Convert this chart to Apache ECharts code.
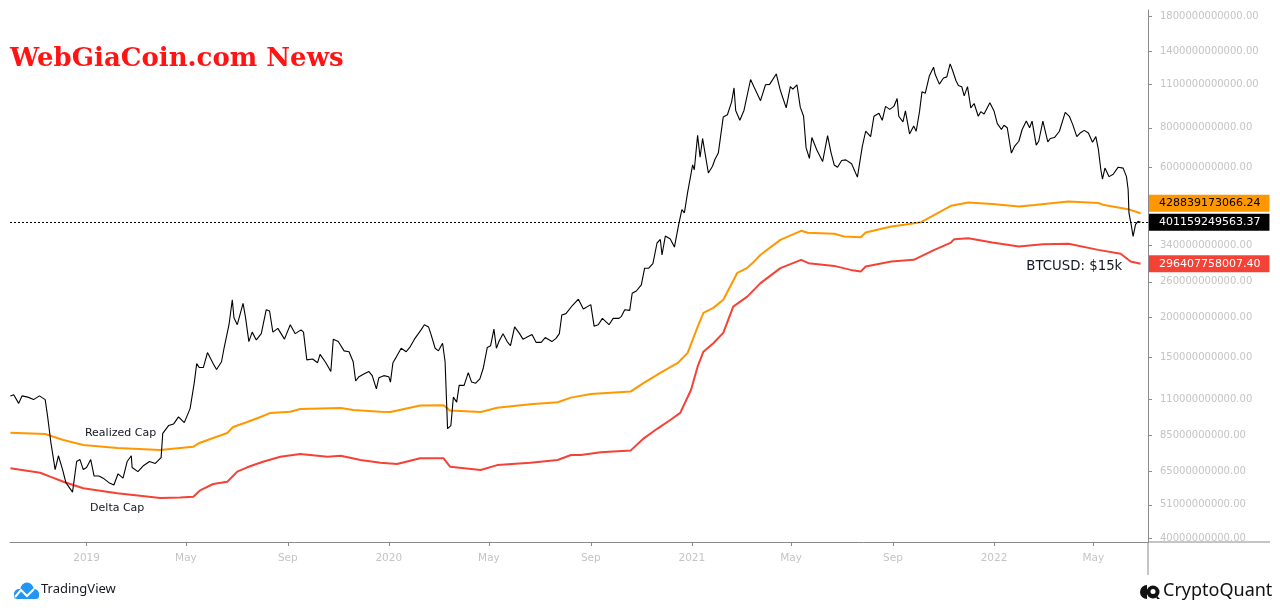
<!DOCTYPE html>
<html><head><meta charset="utf-8">
<script src="https://cdn.jsdelivr.net/npm/echarts@6/dist/echarts.min.js"></script>
<style>html,body{margin:0;padding:0;background:#fff}#c{width:1280px;height:611px}</style>
</head><body><div id="c"></div>
<script>
// values in billions of USD
const UNIT = 1e9;
const btcMarketCap = [
['2018-10-01',113],['2018-10-05',114],['2018-10-11',107],['2018-10-15',113],['2018-10-22',112],['2018-10-29',110],
['2018-11-05',113],['2018-11-12',110],['2018-11-15',97],['2018-11-19',80],['2018-11-20',77],['2018-11-24',66],['2018-11-28',73],
['2018-12-03',66],['2018-12-07',60],['2018-12-15',56],['2018-12-20',70],['2018-12-24',71],['2018-12-28',66],
['2019-01-01',67],['2019-01-06',71],['2019-01-10',63],['2019-01-16',63],['2019-01-21',62],['2019-01-28',60],
['2019-02-03',59],['2019-02-08',64],['2019-02-14',62],['2019-02-19',70],['2019-02-24',73],['2019-02-25',67],
['2019-03-04',65],['2019-03-11',68],['2019-03-18',70],['2019-03-25',69],['2019-04-01',72],['2019-04-03',86],
['2019-04-10',91],['2019-04-16',92],['2019-04-22',97],['2019-04-29',93],['2019-05-06',103],['2019-05-11',124],
['2019-05-14',143],['2019-05-17',139],['2019-05-22',139],['2019-05-27',155],['2019-06-03',143],['2019-06-07',137],
['2019-06-13',145],['2019-06-16',160],['2019-06-22',190],['2019-06-26',228],['2019-06-28',200],['2019-07-02',190],
['2019-07-09',222],['2019-07-12',200],['2019-07-16',168],['2019-07-20',180],['2019-07-25',170],['2019-07-31',178],
['2019-08-06',212],['2019-08-10',210],['2019-08-14',180],['2019-08-20',185],['2019-08-28',171],['2019-09-04',190],
['2019-09-10',178],['2019-09-17',183],['2019-09-20',180],['2019-09-24',147],['2019-10-01',148],['2019-10-07',144],
['2019-10-10',153],['2019-10-17',144],['2019-10-23',135],['2019-10-26',171],['2019-11-01',168],['2019-11-08',157],
['2019-11-14',156],['2019-11-19',145],['2019-11-22',126],['2019-11-26',130],['2019-12-03',133],['2019-12-08',135],
['2019-12-12',131],['2019-12-17',119],['2019-12-20',129],['2019-12-26',131],['2020-01-01',130],['2020-01-03',125],
['2020-01-06',144],['2020-01-10',150],['2020-01-16',160],['2020-01-22',156],['2020-01-27',162],['2020-02-01',171],
['2020-02-09',183],['2020-02-13',190],['2020-02-18',187],['2020-02-21',177],['2020-02-26',160],['2020-03-01',157],
['2020-03-06',166],['2020-03-09',145],['2020-03-12',89],['2020-03-16',91],['2020-03-19',112],['2020-03-23',108],
['2020-03-26',122],['2020-04-01',122],['2020-04-06',134],['2020-04-10',125],['2020-04-15',124],['2020-04-20',128],
['2020-04-24',138],['2020-04-29',161],['2020-05-03',163],['2020-05-07',184],['2020-05-10',160],['2020-05-13',168],
['2020-05-18',178],['2020-05-23',168],['2020-05-27',163],['2020-06-01',187],['2020-06-07',178],['2020-06-11',171],
['2020-06-15',173],['2020-06-22',177],['2020-06-27',167],['2020-07-03',167],['2020-07-08',173],['2020-07-16',168],
['2020-07-21',172],['2020-07-25',178],['2020-07-28',204],['2020-08-02',206],['2020-08-10',219],['2020-08-17',229],
['2020-08-23',213],['2020-09-01',220],['2020-09-05',188],['2020-09-10',190],['2020-09-15',199],['2020-09-23',190],
['2020-09-28',199],['2020-10-05',199],['2020-10-08',202],['2020-10-12',212],['2020-10-18',211],['2020-10-21',239],
['2020-10-26',243],['2020-11-01',254],['2020-11-05',287],['2020-11-10',287],['2020-11-15',297],['2020-11-20',345],
['2020-11-24',354],['2020-11-26',316],['2020-11-30',363],['2020-12-06',355],['2020-12-11',335],['2020-12-16',393],
['2020-12-20',440],['2020-12-23',430],['2020-12-27',500],['2021-01-02',610],['2021-01-04',589],['2021-01-08',757],
['2021-01-11',645],['2021-01-14',740],['2021-01-21',575],['2021-01-26',604],['2021-01-29',636],['2021-02-02',665],
['2021-02-08',866],['2021-02-13',880],['2021-02-18',965],['2021-02-21',1070],['2021-02-23',908],['2021-02-28',845],
['2021-03-05',908],['2021-03-13',1138],['2021-03-17',1080],['2021-03-25',975],['2021-03-31',1095],['2021-04-05',1098],
['2021-04-13',1185],['2021-04-18',1050],['2021-04-25',925],['2021-04-30',1080],['2021-05-03',1060],['2021-05-08',1095],
['2021-05-12',930],['2021-05-16',870],['2021-05-19',692],['2021-05-21',700],['2021-05-23',640],['2021-05-26',745],
['2021-06-01',680],['2021-06-08',625],['2021-06-14',755],['2021-06-18',670],['2021-06-22',610],['2021-06-26',600],
['2021-07-01',630],['2021-07-06',633],['2021-07-13',615],['2021-07-20',558],['2021-07-26',700],['2021-07-30',780],
['2021-08-05',750],['2021-08-09',870],['2021-08-15',890],['2021-08-19',845],['2021-08-23',935],['2021-08-28',915],
['2021-09-02',935],['2021-09-06',990],['2021-09-08',870],['2021-09-13',835],['2021-09-16',905],['2021-09-21',765],
['2021-09-26',810],['2021-09-29',780],['2021-10-03',900],['2021-10-06',1040],['2021-10-10',1030],['2021-10-15',1170],
['2021-10-20',1245],['2021-10-22',1180],['2021-10-27',1100],['2021-11-01',1150],['2021-11-05',1160],['2021-11-09',1275],
['2021-11-12',1215],['2021-11-16',1130],['2021-11-19',1090],['2021-11-23',1080],['2021-11-26',1010],['2021-11-30',1080],
['2021-12-04',925],['2021-12-08',955],['2021-12-13',870],['2021-12-16',900],['2021-12-20',885],['2021-12-27',960],
['2022-01-01',905],['2022-01-05',825],['2022-01-10',790],['2022-01-13',815],['2022-01-17',800],['2022-01-22',665],
['2022-01-26',700],['2022-01-31',725],['2022-02-04',790],['2022-02-09',840],['2022-02-13',800],['2022-02-16',840],
['2022-02-21',705],['2022-02-24',725],['2022-03-01',840],['2022-03-07',722],['2022-03-10',740],['2022-03-15',745],
['2022-03-21',780],['2022-03-28',895],['2022-04-02',870],['2022-04-06',820],['2022-04-11',750],['2022-04-15',770],
['2022-04-20',785],['2022-04-25',770],['2022-04-30',720],['2022-05-04',750],['2022-05-07',685],['2022-05-10',590],
['2022-05-12',550],['2022-05-15',596],['2022-05-20',560],['2022-05-25',570],['2022-05-31',600],['2022-06-06',596],
['2022-06-10',560],['2022-06-12',510],['2022-06-13',430],['2022-06-16',390],['2022-06-18',362],['2022-06-21',395],
['2022-06-24',404],['2022-06-27',401.16]
];
const realizedCap = [
['2018-10-01',86.4],['2018-11-12',85.6],['2018-12-04',81.9],['2018-12-28',79.0],['2019-02-07',77.3],['2019-03-31',76.2],
['2019-04-24',77.3],['2019-05-10',78.0],['2019-05-18',80.3],['2019-06-03',83.1],['2019-06-20',86.2],['2019-06-27',90.1],
['2019-07-14',93.4],['2019-07-30',96.9],['2019-08-11',99.8],['2019-09-04',100.7],['2019-09-16',102.7],['2019-11-04',103.5],
['2019-11-19',102.0],['2019-12-22',100.7],['2020-01-03',100.5],['2020-02-08',105.3],['2020-03-07',105.6],['2020-03-15',101.5],
['2020-04-21',100.5],['2020-05-11',103.7],['2020-06-20',106.3],['2020-07-23',107.9],['2020-08-08',111.6],['2020-09-01',114.6],
['2020-10-19',116.6],['2020-11-04',124.2],['2020-11-24',133.6],['2020-12-15',143.7],['2020-12-27',154.7],['2021-01-08',187.0],
['2021-01-15',207.2],['2021-01-27',214.9],['2021-02-08',227.9],['2021-02-25',277.6],['2021-03-09',287.9],['2021-03-16',299.0],
['2021-03-25',316.5],['2021-04-18',353.0],['2021-05-13',377.1],['2021-05-21',371.6],['2021-06-22',369.0],['2021-07-04',361.6],
['2021-07-24',360.0],['2021-07-30',372.5],['2021-08-30',389.0],['2021-09-23',396.8],['2021-10-05',401.8],['2021-10-21',423.8],
['2021-11-10',452.5],['2021-12-01',463.6],['2021-12-30',459.0],['2022-01-31',450.2],['2022-02-19',455.0],['2022-04-01',467.0],
['2022-05-07',462.0],['2022-05-14',455.0],['2022-06-12',441.7],['2022-06-27',428.84]
];
const deltaCap = [
['2018-10-01',66.6],['2018-11-06',64.5],['2018-11-18',62.7],['2018-12-04',60.4],['2018-12-28',57.6],['2019-02-07',55.5],
['2019-03-31',53.6],['2019-04-24',53.8],['2019-05-10',54.1],['2019-05-18',56.7],['2019-06-03',59.4],['2019-06-20',60.4],
['2019-07-02',65.0],['2019-07-14',67.1],['2019-08-02',69.9],['2019-08-23',72.5],['2019-09-16',74.0],['2019-10-19',72.5],
['2019-11-04',73.0],['2019-11-28',70.8],['2019-12-22',69.4],['2020-01-11',68.7],['2020-02-08',71.7],['2020-03-07',71.7],
['2020-03-15',67.4],['2020-04-21',65.8],['2020-05-11',68.2],['2020-06-20',69.4],['2020-07-23',70.8],['2020-08-08',73.4],
['2020-08-20',73.4],['2020-09-13',74.9],['2020-10-19',75.8],['2020-11-04',82.9],['2020-11-21',89.2],['2020-12-06',94.8],
['2020-12-18',99.8],['2020-12-31',118.0],['2021-01-08',139.9],['2021-01-15',156.1],['2021-01-27',166.0],['2021-02-08',179.0],
['2021-02-20',216.9],['2021-03-09',233.3],['2021-03-25',257.4],['2021-04-18',287.1],['2021-05-13',305.1],['2021-05-22',297.7],
['2021-06-22',291.9],['2021-07-12',283.5],['2021-07-24',280.0],['2021-07-30',290.5],['2021-08-30',301.3],['2021-09-26',305.1],
['2021-10-21',328.1],['2021-11-10',346.1],['2021-11-14',354.8],['2021-12-01',357.4],['2021-12-30',346.0],['2022-01-31',336.3],
['2022-03-01',342.0],['2022-04-01',342.9],['2022-05-07',328.1],['2022-06-03',318.8],['2022-06-15',301.3],['2022-06-27',296.41]
];
const yTickValues = [1800,1400,1100,800,600,340,260,200,150,110,85,65,51,40]; // billions
const xTickDates = ['2019-01-01','2019-05-01','2019-09-01','2020-01-01','2020-05-01','2020-09-01',
                    '2021-01-01','2021-05-01','2021-09-01','2022-01-01','2022-05-01'];
const monthNames = ['Jan','Feb','Mar','Apr','May','Jun','Jul','Aug','Sep','Oct','Nov','Dec'];
const xRange = ['2018-09-30', '2022-07-06'];
const lastBtc = 401159249563.37;
const lastRealized = 428839173066.24;
const lastDelta = 296407758007.40;
const noteRealized = ['2019-02-11', 86.2, 'Realized Cap'];
const noteDelta = ['2019-02-07', 49.9, 'Delta Cap'];
const noteBtc = ['2022-04-08', 289.8, 'BTCUSD: $15k'];

const ts = s => { const [y, m, d] = s.split('-').map(Number); return Date.UTC(y, m - 1, d); };
const toData = arr => arr.map(p => [ts(p[0]), p[1] * UNIT]);
const ORANGE = '#ff9800', RED = '#f44336';

function endLabel(bg, fg, dy) {
  return {
    show: true, position: 'end', distance: 1, offset: [0, dy],
    formatter: p => Number(p.value).toFixed(2),
    backgroundColor: bg, color: fg, fontFamily: 'DejaVu Sans', fontSize: 11,
    padding: [3, 9, 3, 10], borderRadius: 0
  };
}
function note(n, color, size) {
  return {
    symbol: 'circle', symbolSize: 0, silent: true, animation: false,
    label: { show: true, position: 'inside', color: color, fontFamily: 'DejaVu Sans', fontSize: size, formatter: '{b}' },
    data: [{ name: n[2], coord: [ts(n[0]), n[1] * UNIT] }]
  };
}

const chart = echarts.init(document.getElementById('c'));
chart.setOption({
  animation: false,
  backgroundColor: '#ffffff',
  grid: { left: 10, right: 132, top: 10, bottom: 69 },
  xAxis: {
    type: 'value',
    min: ts(xRange[0]) + 12 * 3600e3, max: ts(xRange[1]),
    axisLine: { show: true, lineStyle: { color: '#8a8a8a', width: 1 } },
    axisTick: { show: true, length: 4, lineStyle: { color: '#8a8a8a' }, customValues: xTickDates.map(ts) },
    axisLabel: {
      customValues: xTickDates.map(ts), color: '#c4c4c4', fontFamily: 'DejaVu Sans', fontSize: 10.5, margin: 11,
      formatter: v => { const d = new Date(v); return d.getUTCMonth() === 0 ? String(d.getUTCFullYear()) : monthNames[d.getUTCMonth()]; }
    },
    splitLine: { show: false }
  },
  yAxis: {
    type: 'log', logBase: 10, position: 'right',
    min: 38.9e9, max: 1890e9,
    axisLine: { show: true, lineStyle: { color: '#8a8a8a', width: 1 } },
    axisTick: { show: true, length: 4, lineStyle: { color: '#8a8a8a' }, customValues: yTickValues.map(v => v * UNIT) },
    axisLabel: {
      customValues: yTickValues.map(v => v * UNIT), color: '#c4c4c4', fontFamily: 'DejaVu Sans', fontSize: 10, margin: 12,
      formatter: v => (Math.round(v / UNIT) * UNIT).toFixed(2)
    },
    splitLine: { show: false }
  },
  series: [
    {
      name: 'Realized Cap', type: 'line', data: toData(realizedCap), showSymbol: false, symbol: 'none',
      lineStyle: { color: ORANGE, width: 2 }, z: 2,
      markLine: { silent: true, symbol: 'none', animation: false, lineStyle: { color: 'rgba(0,0,0,0)', width: 0 },
        label: endLabel(ORANGE, '#000', -10), data: [{ yAxis: lastRealized }] },
      markPoint: note(noteRealized, '#131722', 11)
    },
    {
      name: 'Delta Cap', type: 'line', data: toData(deltaCap), showSymbol: false, symbol: 'none',
      lineStyle: { color: RED, width: 2 }, z: 2,
      markLine: { silent: true, symbol: 'none', animation: false, lineStyle: { color: 'rgba(0,0,0,0)', width: 0 },
        label: endLabel(RED, '#fff', 0), data: [{ yAxis: lastDelta }] },
      markPoint: note(noteDelta, '#131722', 11)
    },
    {
      name: 'BTC Market Cap', type: 'line', data: toData(btcMarketCap), showSymbol: false, symbol: 'none',
      lineStyle: { color: '#000', width: 1.1 }, z: 3,
      markLine: { silent: true, symbol: 'none', animation: false, lineStyle: { color: '#000', width: 1, type: [2, 2] },
        label: endLabel('#000', '#fff', 0), data: [{ yAxis: lastBtc }] },
      markPoint: note(noteBtc, '#131722', 13.3)
    }
  ],
  graphic: { elements: [
    { type: 'text', left: 10, top: 46, silent: true,
      style: { text: 'WebGiaCoin.com News', fill: '#ff1414', fontFamily: 'DejaVu Serif', fontWeight: 'bold', fontSize: 26 } },
    { type: 'line', silent: true, shape: { x1: 1148, y1: 542, x2: 1270, y2: 542 }, style: { stroke: '#8a8a8a', lineWidth: 1 } },
    { type: 'line', silent: true, shape: { x1: 1148, y1: 542, x2: 1148, y2: 575 }, style: { stroke: '#8a8a8a', lineWidth: 1 } },
    { type: 'group', silent: true, children: [
      { type: 'circle', shape: { cx: 19, cy: 594, r: 5 }, style: { fill: '#2196f3' } },
      { type: 'circle', shape: { cx: 27, cy: 589, r: 6.5 }, style: { fill: '#2196f3' } },
      { type: 'circle', shape: { cx: 34, cy: 594, r: 5 }, style: { fill: '#2196f3' } },
      { type: 'rect', shape: { x: 14, y: 592, width: 25, height: 7, r: 3 }, style: { fill: '#2196f3' } },
      { type: 'polyline', shape: { points: [[15, 597], [21, 590], [27, 596], [34, 589]] }, style: { stroke: '#fff', lineWidth: 2, fill: null } }
    ] },
    { type: 'text', left: 41, top: 583, silent: true, style: { text: 'TradingView', fill: '#131722', fontFamily: 'Noto Sans', fontSize: 13 } },
    { type: 'group', silent: true, children: [
      { type: 'sector', shape: { cx: 1147, cy: 592, r0: 0, r: 7, startAngle: Math.PI / 2, endAngle: Math.PI * 1.5 }, style: { fill: '#111' } },
      { type: 'circle', shape: { cx: 1153, cy: 592, r: 6.5 }, style: { fill: '#111' } },
      { type: 'circle', shape: { cx: 1153, cy: 591.5, r: 2.5 }, style: { fill: '#fff' } },
      { type: 'polygon', shape: { points: [[1155, 594], [1160, 599], [1157, 599]] }, style: { fill: '#111' } }
    ] },
    { type: 'text', left: 1163, top: 582, silent: true, style: { text: 'CryptoQuant', fill: '#111', fontFamily: 'Noto Sans', fontSize: 18 } }
  ] }
});
</script>
</body></html>
